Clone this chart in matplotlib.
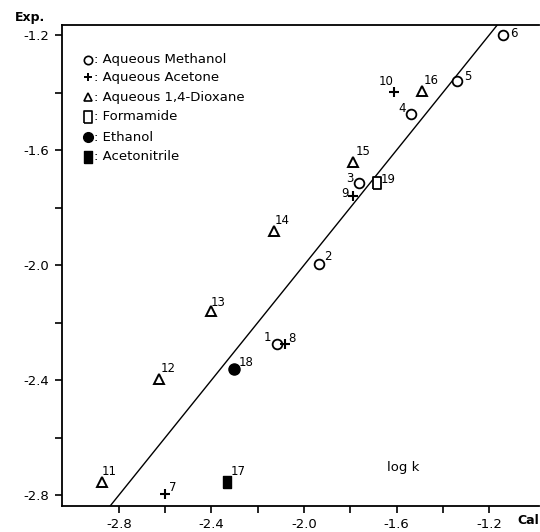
import matplotlib
matplotlib.use("Agg")
import matplotlib.pyplot as plt
import numpy as np

plt.rcParams['font.family'] = ['DejaVu Sans']

# Data (log k, calculated vs experimental)
methanol_ids = ["1", "2", "3", "4", "5", "6"]
methanol_cal = [-2.119, -1.934, -1.761, -1.537, -1.339, -1.141]
methanol_exp = [-2.275, -1.997, -1.715, -1.475, -1.360, -1.200]

acetone_ids = ["7", "8", "9", "10"]
acetone_cal = [-2.600, -2.084, -1.787, -1.610]
acetone_exp = [-2.797, -2.275, -1.760, -1.398]

dioxane_ids = ["11", "12", "13", "14", "15", "16"]
dioxane_cal = [-2.873, -2.628, -2.403, -2.132, -1.787, -1.490]
dioxane_exp = [-2.755, -2.397, -2.160, -1.882, -1.642, -1.395]

formamide_ids = ["19"]
formamide_cal = [-1.684]
formamide_exp = [-1.715]

ethanol_ids = ["18"]
ethanol_cal = [-2.304]
ethanol_exp = [-2.362]

acetonitrile_ids = ["17"]
acetonitrile_cal = [-2.334]
acetonitrile_exp = [-2.755]

# label offsets in pixels (dx, dy) per point id
label_offsets = {
    "1": (-9, 7), "2": (9, 8), "3": (-9, 5), "4": (-9, 6), "5": (11, 5), "6": (11, 2),
    "7": (8, 7), "8": (7, 6), "9": (-8, 3), "10": (-8, 10),
    "11": (7, 11), "12": (9, 11), "13": (7, 9), "14": (9, 11), "15": (10, 11), "16": (9, 11),
    "17": (11, 11), "18": (12, 7), "19": (11, 4),
}

xticks_all = [-2.8, -2.6, -2.4, -2.2, -2.0, -1.8, -1.6, -1.4, -1.2]
xticks_major = [-2.8, -2.4, -2.0, -1.6, -1.2]
yticks_all = [-2.8, -2.6, -2.4, -2.2, -2.0, -1.8, -1.6, -1.4, -1.2]
yticks_major = [-1.2, -1.6, -2.0, -2.4, -2.8]

fig = plt.figure(figsize=(5.4, 5.32), dpi=100)
ax = fig.add_axes([62/540, 1 - 506/532, 1 - 62/540 - 0.002, (506 - 25)/532])
ax.set_xlim(-3.046, -0.985)
ax.set_ylim(-2.838, -1.165)

rect = [(-0.33, -0.5), (0.33, -0.5), (0.33, 0.5), (-0.33, 0.5), (-0.33, -0.5)]

series = [
    (methanol_ids, methanol_cal, methanol_exp, dict(marker='o', ms=7, mfc='white', mec='black', mew=1.3)),
    (acetone_ids, acetone_cal, acetone_exp, dict(marker='+', ms=7, mec='black', mew=1.5)),
    (dioxane_ids, dioxane_cal, dioxane_exp, dict(marker='^', ms=6.5, mfc='white', mec='black', mew=1.4)),
    (formamide_ids, formamide_cal, formamide_exp, dict(marker=rect, ms=9, mfc='white', mec='black', mew=1.3)),
    (ethanol_ids, ethanol_cal, ethanol_exp, dict(marker='o', ms=8, mfc='black', mec='black')),
    (acetonitrile_ids, acetonitrile_cal, acetonitrile_exp, dict(marker=rect, ms=9, mfc='black', mec='black')),
]

# y = x line
lx = np.array([-3.0, -1.0])
ax.plot(lx, lx, color='black', lw=1.0, zorder=1)

for ids, xs, ys, style in series:
    ax.plot(xs, ys, linestyle='none', zorder=3, **style)
    for i, x, y in zip(ids, xs, ys):
        dx, dy = label_offsets[i]
        ax.annotate(i, (x, y), xytext=(dx, dy), textcoords='offset pixels',
                    ha='center', va='center', fontsize=8.5)

# axes styling
ax.spines['right'].set_visible(False)
for s in ['left', 'bottom', 'top']:
    ax.spines[s].set_linewidth(1.3)

ax.set_xticks(xticks_all)
ax.set_xticklabels([f"{v:.1f}" if v in xticks_major else '' for v in xticks_all])
ax.set_yticks(yticks_all)
ax.set_yticklabels([f"{v:.1f}" if v in yticks_major else '' for v in yticks_all])
ax.tick_params(direction='out', length=5, width=1.2, labelsize=9.5, pad=4)

# axis texts
fig.text(30/540, 1 - 18/532, "Exp.", fontsize=9, fontweight='bold', ha='center', va='center')
fig.text(528/540, 1 - 520/532, "Cal", fontsize=9, fontweight='bold', ha='center', va='center')
fig.text(403/540, 1 - 467/532, "log k", fontsize=9.5, ha='center', va='center')

# legend as text
leg_items = [
    ("o", dict(mfc='white', mec='black', mew=1.2, ms=6), "Aqueous Methanol"),
    ("+", dict(mec='black', mew=1.4, ms=6), "Aqueous Acetone"),
    ("^", dict(mfc='white', mec='black', mew=1.2, ms=6), "Aqueous 1,4-Dioxane"),
    (rect, dict(mfc='white', mec='black', mew=1.2, ms=8), "Formamide"),
    ("o", dict(mfc='black', mec='black', ms=7), "Ethanol"),
    (rect, dict(mfc='black', mec='black', ms=8), "Acetonitrile"),
]
leg_y = [60, 77, 97, 117, 137, 157]
for (m, st, lab), py in zip(leg_items, leg_y):
    fy = 1 - py / 532
    fig.lines.append(plt.Line2D([88/540], [fy], marker=m, linestyle='none',
                                transform=fig.transFigure, **st))
    fig.text(94/540, fy, ": " + lab, fontsize=9.5, ha='left', va='center')

fig.savefig("out.png", dpi=100)
